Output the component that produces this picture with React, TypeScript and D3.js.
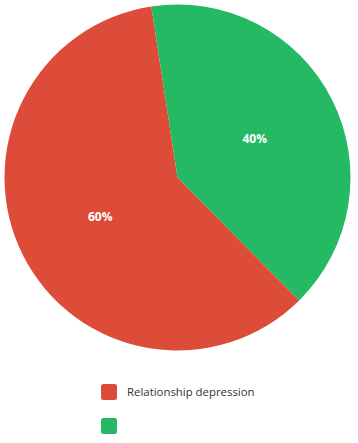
import React from "react";
import * as d3 from "d3";

const categories = ["Relationship depression", ""];
const values = [60, 40];
const colors = ["#dd4b39", "#25b963"];

export default function App() {
  const width = 358;
  const height = 443;
  const cx = 177.5;
  const cy = 177.5;
  const r = 173;
  const start = (135.3 * Math.PI) / 180;
  const pie = d3.pie<number>().sort(null).startAngle(start).endAngle(start + 2 * Math.PI);
  const arcs = pie(values);
  const arc = d3.arc<d3.PieArcDatum<number>>().innerRadius(0).outerRadius(r);
  const labelArc = d3.arc<d3.PieArcDatum<number>>().innerRadius(r * 0.5).outerRadius(r * 0.5);
  const total = d3.sum(values);
  const font = "'Open Sans', 'Noto Sans', sans-serif";
  return (
    <svg width={width} height={height} style={{ position: "absolute", left: 0, top: 0 }}>
      <g transform={`translate(${cx},${cy})`}>
        {arcs.map((a, i) => (
          <path key={i} d={arc(a) || ""} fill={colors[i]} />
        ))}
        {arcs.map((a, i) => {
          const [x, y] = labelArc.centroid(a);
          return (
            <text key={"l" + i} x={x} y={y} dy="0.35em" textAnchor="middle" fill="#fff" fontSize={12} fontWeight="bold" fontFamily={font}>
              {Math.round((a.data / total) * 100) + "%"}
            </text>
          );
        })}
      </g>
      {categories.map((c, i) => (
        <g key={"g" + i} transform={`translate(101,${384 + i * 34})`}>
          <rect width={16} height={16} rx={2.5} fill={colors[i]} />
          <text x={26} y={8} dy="0.35em" fontSize={11.4} fill="#333" fontFamily={font}>
            {c}
          </text>
        </g>
      ))}
    </svg>
  );
}
